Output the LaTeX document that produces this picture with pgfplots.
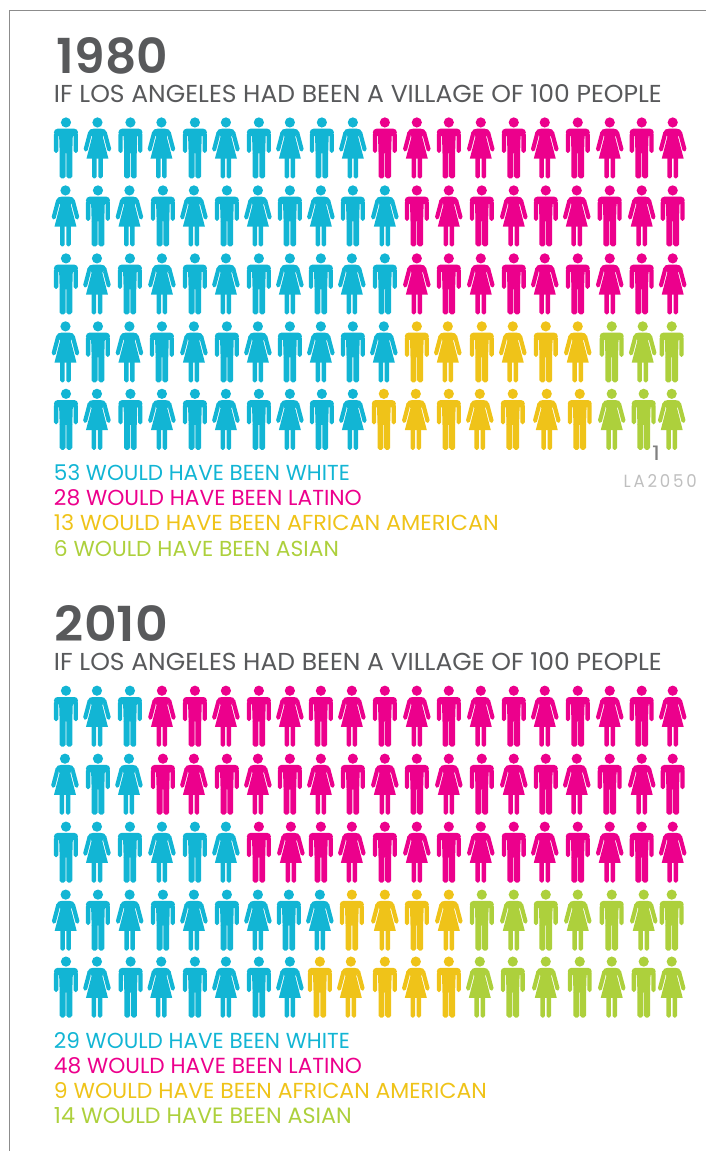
\documentclass[border=0pt]{standalone}
\usepackage{graphicx}
\usepackage{fontspec}
\usepackage{pgfplots}
\pgfplotsset{compat=1.18}
\setmainfont{Poppins}
\newfontfamily\yearfont{Poppins SemiBold}
\newfontfamily\bookfont{Poppins}

\definecolor{cy}{HTML}{12B5D4}
\definecolor{pk}{HTML}{EC008C}
\definecolor{yl}{HTML}{EFC319}
\definecolor{gn}{HTML}{ADD03C}
\definecolor{ink}{HTML}{58595B}

% marks: origin is the centre of the head, 1pt is 1px of the reference
\newcommand{\rrect}[5]{%
  \pgfsetcornersarced{\pgfpoint{#5pt}{#5pt}}%
  \pgfpathmoveto{\pgfpoint{#1pt}{#2pt}}%
  \pgfpathlineto{\pgfpoint{#1pt}{#4pt}}%
  \pgfpathlineto{\pgfpoint{#3pt}{#4pt}}%
  \pgfpathlineto{\pgfpoint{#3pt}{#2pt}}%
  \pgfpathclose
  \pgfusepath{fill}%
}
\pgfdeclareplotmark{man}{%
  \pgfsetcornersarced{\pgfpointorigin}%
  \pgfpathcircle{\pgfpointorigin}{5.1pt}%
  \pgfusepath{fill}%
  % torso, a little narrower at the hips
  \pgfpathmoveto{\pgfpoint{-6.3pt}{-31pt}}%
  \pgfpathlineto{\pgfpoint{-6.9pt}{-11pt}}%
  \pgfpathlineto{\pgfpoint{6.9pt}{-11pt}}%
  \pgfpathlineto{\pgfpoint{6.3pt}{-31pt}}%
  \pgfpathclose
  \pgfusepath{fill}%
  \rrect{-12}{-13.6}{12}{-6.3}{3.5}%
  \rrect{-12}{-30.5}{-7.7}{-10}{1.9}%
  \rrect{7.7}{-30.5}{12}{-10}{1.9}%
  \rrect{-6.3}{-56}{-0.4}{-29}{1.9}%
  \rrect{0.4}{-56}{6.3}{-29}{1.9}%
}
\pgfdeclareplotmark{woman}{%
  \pgfsetcornersarced{\pgfpointorigin}%
  \pgfpathcircle{\pgfpointorigin}{5.1pt}%
  \pgfusepath{fill}%
  % shoulders and dress
  \pgfpathmoveto{\pgfpoint{-4pt}{-6.3pt}}%
  \pgfpathcurveto{\pgfpoint{-6.5pt}{-6.3pt}}{\pgfpoint{-8.3pt}{-7pt}}{\pgfpoint{-9.4pt}{-10pt}}%
  \pgfpathlineto{\pgfpoint{-5.6pt}{-14pt}}%
  \pgfpathlineto{\pgfpoint{-5pt}{-13pt}}%
  \pgfpathlineto{\pgfpoint{-11pt}{-36.3pt}}%
  \pgfpathlineto{\pgfpoint{11pt}{-36.3pt}}%
  \pgfpathlineto{\pgfpoint{5pt}{-13pt}}%
  \pgfpathlineto{\pgfpoint{5.6pt}{-14pt}}%
  \pgfpathlineto{\pgfpoint{9.4pt}{-10pt}}%
  \pgfpathcurveto{\pgfpoint{8.3pt}{-7pt}}{\pgfpoint{6.5pt}{-6.3pt}}{\pgfpoint{4pt}{-6.3pt}}%
  \pgfpathclose
  \pgfusepath{fill}%
  % arms
  \pgfsetcornersarced{\pgfpoint{1.7pt}{1.7pt}}%
  \pgfpathmoveto{\pgfpoint{-8.9pt}{-8pt}}%
  \pgfpathlineto{\pgfpoint{-14.2pt}{-28pt}}%
  \pgfpathlineto{\pgfpoint{-10.3pt}{-29.6pt}}%
  \pgfpathlineto{\pgfpoint{-5.8pt}{-12.5pt}}%
  \pgfpathclose
  \pgfusepath{fill}%
  \pgfpathmoveto{\pgfpoint{8.9pt}{-8pt}}%
  \pgfpathlineto{\pgfpoint{5.8pt}{-12.5pt}}%
  \pgfpathlineto{\pgfpoint{10.3pt}{-29.6pt}}%
  \pgfpathlineto{\pgfpoint{14.2pt}{-28pt}}%
  \pgfpathclose
  \pgfusepath{fill}%
  \rrect{-5.3}{-56}{-0.8}{-33}{1.7}%
  \rrect{0.8}{-56}{5.3}{-33}{1.7}%
}

% #1 width, #2 cap height, #3 text
\newcommand{\fit}[3]{\resizebox{#1pt}{#2pt}{#3}}
\tikzset{lbl/.style={anchor=base west, inner sep=0pt, outer sep=0pt}}

\begin{document}
\begin{tikzpicture}
\begin{axis}[
  width=706pt, height=1151pt, scale only axis,
  xmin=0, xmax=706, ymin=0, ymax=1151, y dir=reverse,
  hide axis, clip=false,
]
% keeps the page as large as the full canvas
\addplot[draw=none, no marks, forget plot] coordinates {(0,0) (706,1151)};
% frame
\addplot[no marks, line width=1pt, color=black!45] coordinates {(9.5,1151) (9.5,10.5) (706,10.5)};

% cyan
\addplot[only marks, mark=man, mark options={fill=cy, draw=none}] coordinates {
  (66,122.5)(130.5,122.5)(195,122.5)(259,122.5)(322,122.5)
  (98,190.5)(163,190.5)(227,190.5)(290,190.5)(353,190.5)
  (66,258.5)(130,258.5)(195,258.5)(259,258.5)(321,258.5)(385,258.5)
  (98,326.5)(162,326.5)(227,326.5)(290,326.5)(353,326.5)
  (66,394)(130.5,394)(195,394)(259,394)(322,394)
  (66,691)(130,691)
  (98,759)
  (66,827)(130,827)(195,827)
  (98,895)(163,895)(227,895)(289,895)
  (66,962)(130.7,962)(195,962)(259,962)
};
\addplot[only marks, mark=woman, mark options={fill=cy, draw=none}] coordinates {
  (97.5,122.5)(161.5,122.5)(226,122.5)(290,122.5)(353,122.5)
  (65.5,190.5)(129.5,190.5)(194,190.5)(258,190.5)(321,190.5)(385,190.5)
  (97,258.5)(162,258.5)(226,258.5)(290,258.5)(352,258.5)
  (65.5,326.5)(129.5,326.5)(194,326.5)(258,326.5)(321,326.5)(384,326.5)
  (97,394)(162,394)(226,394)(290,394)(353,394)
  (97,691)
  (65,759)(129,759)
  (97,827)(162,827)(226,827)
  (65.7,895)(129.7,895)(194,895)(258,895)(320,895)
  (97,962)(161.3,962)(226,962)(290,962)
};
% pink
\addplot[only marks, mark=man, mark options={fill=pk, draw=none}] coordinates {
  (385,122.5)(449,122.5)(514,122.5)(578,122.5)(642,122.5)
  (417,190.5)(482,190.5)(546,190.5)(610,190.5)(673,190.5)
  (449,258.5)(514,258.5)(578,258.5)(642,258.5)
  (195,691)(259,691)(321,691)(385,691)(449,691)(514,691)(578,691)(642,691)
  (163,759)(227,759)(290,759)(353,759)(417,759)(482,759)(546,759)(610,759)(673,759)
  (259,827)(321,827)(385,827)(449,827)(514,827)(578,827)(642,827)
};
\addplot[only marks, mark=woman, mark options={fill=pk, draw=none}] coordinates {
  (417,122.5)(481,122.5)(545,122.5)(610,122.5)(673,122.5)
  (449,190.5)(514,190.5)(577,190.5)(642,190.5)
  (417,258.5)(481,258.5)(545,258.5)(610,258.5)(673,258.5)
  (162,691)(226,691)(290,691)(352,691)(417,691)(481,691)(545,691)(610,691)(673,691)
  (194,759)(258,759)(321,759)(385,759)(449,759)(514,759)(577,759)(642,759)
  (291,827)(352,827)(417,827)(481,827)(545,827)(610,827)(673,827)
};
% yellow
\addplot[only marks, mark=man, mark options={fill=yl, draw=none}] coordinates {
  (417,326.5)(482,326.5)(546,326.5)
  (384,394)(449,394)(513,394)(580,394)
  (352,895)(417,895)
  (320,962)(385,962)(449,962)
};
\addplot[only marks, mark=woman, mark options={fill=yl, draw=none}] coordinates {
  (448,326.5)(513,326.5)(578,326.5)
  (416,394)(480,394)(547,394)
  (385,895)(449,895)
  (351,962)(416,962)
};
% green
\addplot[only marks, mark=man, mark options={fill=gn, draw=none}] coordinates {
  (612,326.5)(672,326.5)
  (644,394)
  (482,895)(546,895)(612,895)(672,895)
  (513,962)(580,962)(644,962)
};
\addplot[only marks, mark=woman, mark options={fill=gn, draw=none}] coordinates {
  (643,326.5)
  (612,394)(672,394)
  (514,895)(578,895)(644,895)
  (480,962)(546,962)(612,962)(672,962)
};

% titles
\node[lbl, text=ink] at (axis cs:57,74) {\fit{111}{36}{\yearfont 1980}};
\node[lbl, text=ink] at (axis cs:54,103) {\fit{608}{18}{\bookfont IF LOS ANGELES HAD BEEN A VILLAGE OF 100 PEOPLE}};
\node[lbl, text=ink] at (axis cs:55,642) {\fit{113}{36}{\yearfont 2010}};
\node[lbl, text=ink] at (axis cs:54,671) {\fit{608}{18}{\bookfont IF LOS ANGELES HAD BEEN A VILLAGE OF 100 PEOPLE}};

% legend lines
\node[lbl, text=cy] at (axis cs:54,481) {\fit{296}{16}{\bookfont 53 WOULD HAVE BEEN WHITE}};
\node[lbl, text=pk] at (axis cs:54,506) {\fit{308}{16}{\bookfont 28 WOULD HAVE BEEN LATINO}};
\node[lbl, text=yl] at (axis cs:54,531) {\fit{445}{16}{\bookfont 13 WOULD HAVE BEEN AFRICAN AMERICAN}};
\node[lbl, text=gn] at (axis cs:54,557) {\fit{285}{16}{\bookfont 6 WOULD HAVE BEEN ASIAN}};

\node[lbl, text=cy] at (axis cs:54,1049) {\fit{296}{16}{\bookfont 29 WOULD HAVE BEEN WHITE}};
\node[lbl, text=pk] at (axis cs:54,1074) {\fit{308}{16}{\bookfont 48 WOULD HAVE BEEN LATINO}};
\node[lbl, text=yl] at (axis cs:54,1099) {\fit{433}{16}{\bookfont 9 WOULD HAVE BEEN AFRICAN AMERICAN}};
\node[lbl, text=gn] at (axis cs:54,1124) {\fit{298}{16}{\bookfont 14 WOULD HAVE BEEN ASIAN}};

% page number and credit
\node[lbl, text=black!50] at (axis cs:652.5,460.5) {\fit{8}{14.5}{\bookfont 1}};
\node[lbl, text=black!25] at (axis cs:624,488) {\fit{73}{13}{\bookfont L\,A\,2\,0\,5\,0}};
\end{axis}
\end{tikzpicture}
\end{document}
